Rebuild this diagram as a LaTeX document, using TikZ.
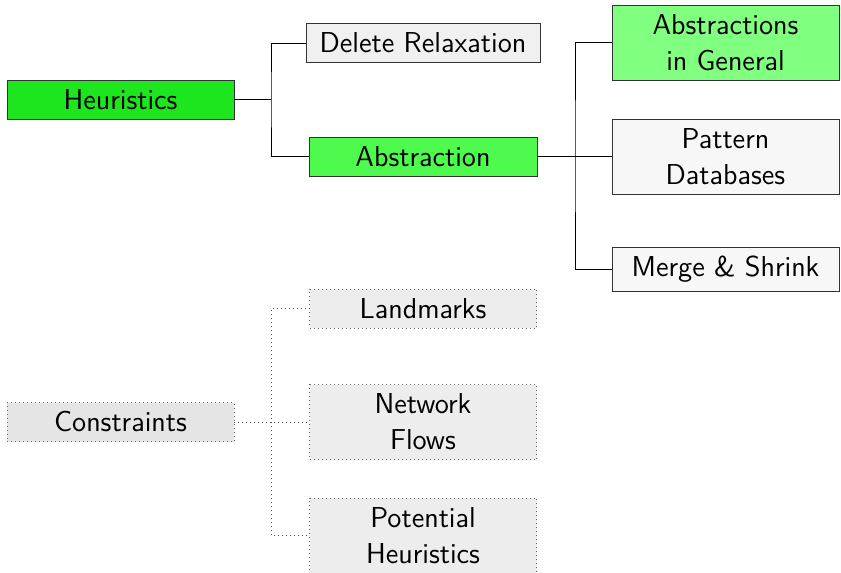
\documentclass[tikz,border=0pt]{standalone}
\begin{document}
\begin{tikzpicture}[x=0.5pt,y=-0.5pt,font=\sffamily\Large,
  box/.style={draw=black!80,line width=0.5pt,inner sep=0pt,outer sep=0pt,align=center,
    minimum width=113.5pt,minimum height=19.5pt},
  tall/.style={minimum height=37.5pt},
  dotbox/.style={box,draw=black!60,dash pattern=on 0.5pt off 1.5pt},
  conn/.style={draw=black,line width=0.5pt},
  dotconn/.style={draw=black!70,line width=0.5pt,dash pattern=on 0.5pt off 1.5pt}]
\useasboundingbox (0,0) rectangle (841,573);
\definecolor{gHeur}{RGB}{30,230,30}
\definecolor{gAbs}{RGB}{77,250,77}
\definecolor{gGen}{RGB}{128,255,128}
% solid tree
\node[box,fill=gHeur] (heur) at (120.5,99.5) {Heuristics};
\node[box,fill=black!6,minimum width=117pt] (dr) at (423,43) {Delete Relaxation};
\node[box,fill=gAbs,minimum width=114pt] (ab) at (423,156.5) {Abstraction};
\node[box,tall,fill=gGen] (ag) at (725.5,42.5) {Abstractions\\in General};
\node[box,tall,fill=black!3] (pd) at (725.5,156.5) {Pattern\\Databases};
\node[box,fill=black!3,minimum height=22pt] (ms) at (725.5,269.5) {Merge \& Shrink};
\coordinate (j1) at (271,99.5);
\coordinate (j2) at (575,156.5);
\draw[conn] (heur.east) -- (j1);
\draw[conn] (dr.west) -| (j1) |- (ab.west);
\draw[conn] (ab.east) -- (pd.west);
\draw[conn] (ag.west) -| (j2) |- (ms.west);
% dotted tree
\node[dotbox,fill=black!10] (con) at (120.5,422) {Constraints};
\node[dotbox,fill=black!7] (lm) at (423,308.5) {Landmarks};
\node[dotbox,tall,fill=black!7] (nf) at (423,422) {Network\\Flows};
\node[dotbox,tall,fill=black!7] (ph) at (423,535.5) {Potential\\Heuristics};
\coordinate (j3) at (271,422);
\draw[dotconn] (con.east) -- (nf.west);
\draw[dotconn] (lm.west) -| (j3) |- (ph.west);
\end{tikzpicture}
\end{document}
